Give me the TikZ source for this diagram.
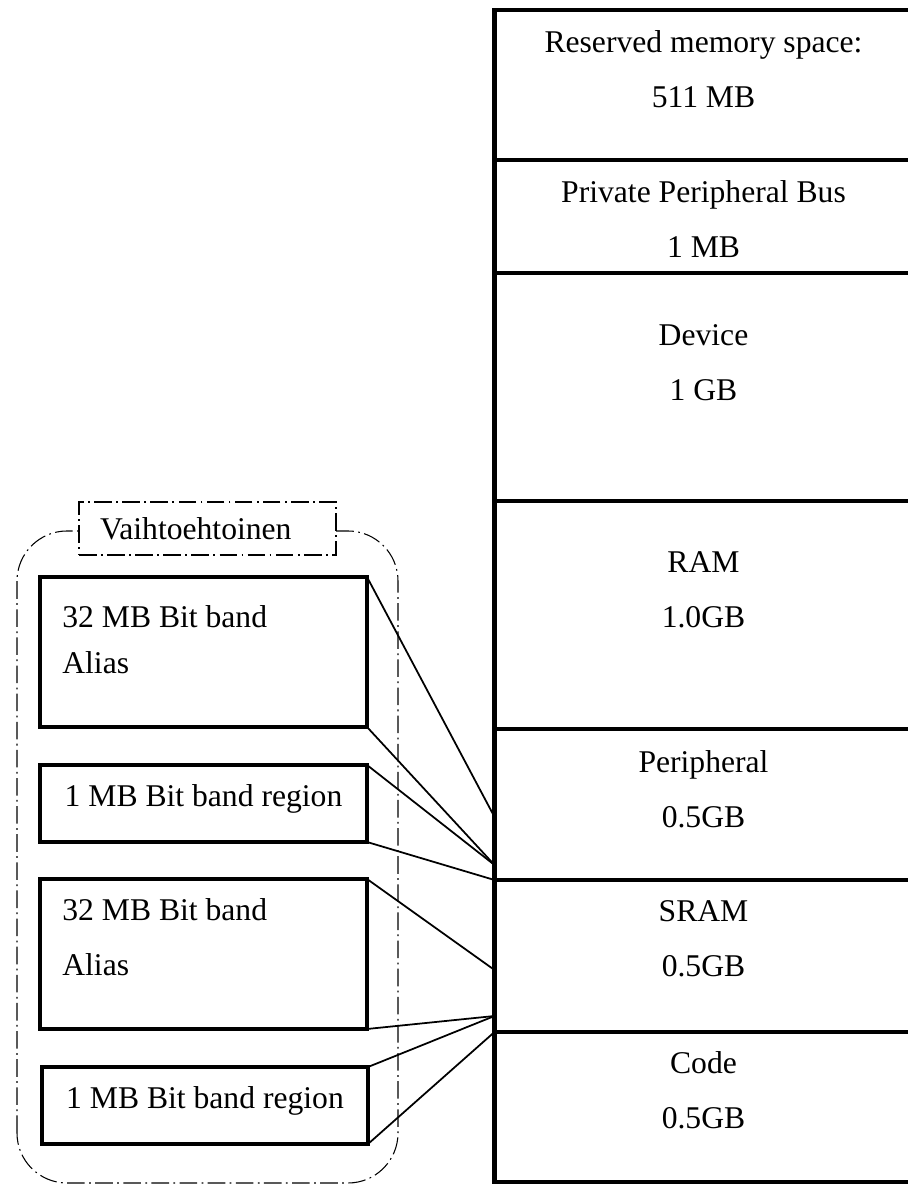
\documentclass[tikz,border=0pt]{standalone}
\usepackage{fontspec}
\setmainfont{Liberation Serif}
\usetikzlibrary{positioning}

\begin{document}
\begin{tikzpicture}[x=0.2mm, y=0.2mm,
  region/.style={draw, line width=2.7pt, outer sep=0pt, inner sep=0pt, minimum width=83.6mm},
  regtext/.style={inner sep=0pt, align=center, font=\fontsize{18}{31.3}\selectfont},
  bandbox/.style={draw, line width=2.7pt, outer sep=0pt, minimum width=65.4mm, font=\fontsize{18}{31.3}\selectfont},
  bandtext/.style={inner sep=0pt, align=left, font=\fontsize{18}{31.3}\selectfont},
  link/.style={line width=1pt},
  optline/.style={line width=0.6pt, dash pattern=on 10pt off 2.5pt on 1pt off 2.5pt}]

\useasboundingbox (0,0) rectangle (908,1184);

%% Optional group %%
\draw[optline, rounded corners=10mm] (17,1) rectangle (398,653);
\node[optline, draw, fill=white, minimum height=10.6mm, text width=43mm, inner xsep=4.2mm,
  align=left, font=\fontsize{18}{22}\selectfont] (optlabel) at (207.5,655.5) {Vaihtoehtoinen};

%% Memory map %%
\node[region, minimum height=30mm] (reserved) at (703.5,1099) {};
\node[region, minimum height=22.6mm, below=0pt of reserved] (ppb) {};
\node[region, minimum height=45.6mm, below=0pt of ppb] (device) {};
\node[region, minimum height=45.6mm, below=0pt of device] (ram) {};
\node[region, minimum height=30.2mm, below=0pt of ram] (periph) {};
\node[region, minimum height=30.4mm, below=0pt of periph] (sram) {};
\node[region, minimum height=30mm, below=0pt of sram] (code) {};

% region texts %
\node[regtext, below=4.1mm of reserved.north] (reservedtxt) {Reserved memory space:\\511 MB};
\node[regtext, below=4.1mm of ppb.north] (ppbtxt) {Private Peripheral Bus\\1 MB};
\node[regtext, below=10.2mm of device.north] (devicetxt) {Device\\1 GB};
\node[regtext, below=10.1mm of ram.north] (ramtxt) {RAM\\1.0GB};
\node[regtext, below=4.3mm of periph.north] (periphtxt) {Peripheral\\0.5GB};
\node[regtext, below=4.1mm of sram.north] (sramtxt) {SRAM\\0.5GB};
\node[regtext, below=3.9mm of code.north] (codetxt) {Code\\0.5GB};

%% Bit band boxes %%
\node[bandbox, minimum height=30mm] (alias1) at (203.5,532) {};
\node[bandtext, font=\fontsize{18}{26.2}\selectfont, below right=5.7mm and 4.4mm of alias1.north west] (alias1txt) {32 MB Bit band\\Alias};
\node[bandbox, minimum height=15.4mm, text depth=3.1mm] (region1) at (203.5,380.5) {1 MB Bit band region};

\node[bandbox, minimum height=30mm] (alias2) at (203.5,230) {};
\node[bandtext, below right=3.9mm and 4.4mm of alias2.north west] (alias2txt) {32 MB Bit band\\Alias};
\node[bandbox, minimum width=65.2mm, minimum height=15.4mm, text depth=3.1mm] (region2) at (205,78.5) {1 MB Bit band region};

%% Connection lines %%
\coordinate (pa) at (494.5,367);
\coordinate (pb) at (494.5,319);
\coordinate (pc) at (494.5,214);
\coordinate (pd) at (494.5,168);

\draw[link] (alias1.north east) -- (pa);
\draw[link] (alias1.south east) -- (pb);
\draw[link] (region1.north east) -- (pb);
\draw[link] (region1.south east) -- (sram.north west);

\draw[link] (alias2.north east) -- (pc);
\draw[link] (alias2.south east) -- (pd);
\draw[link] (region2.north east) -- (pd);
\draw[link] (region2.south east) -- (code.north west);

\end{tikzpicture}
\end{document}
